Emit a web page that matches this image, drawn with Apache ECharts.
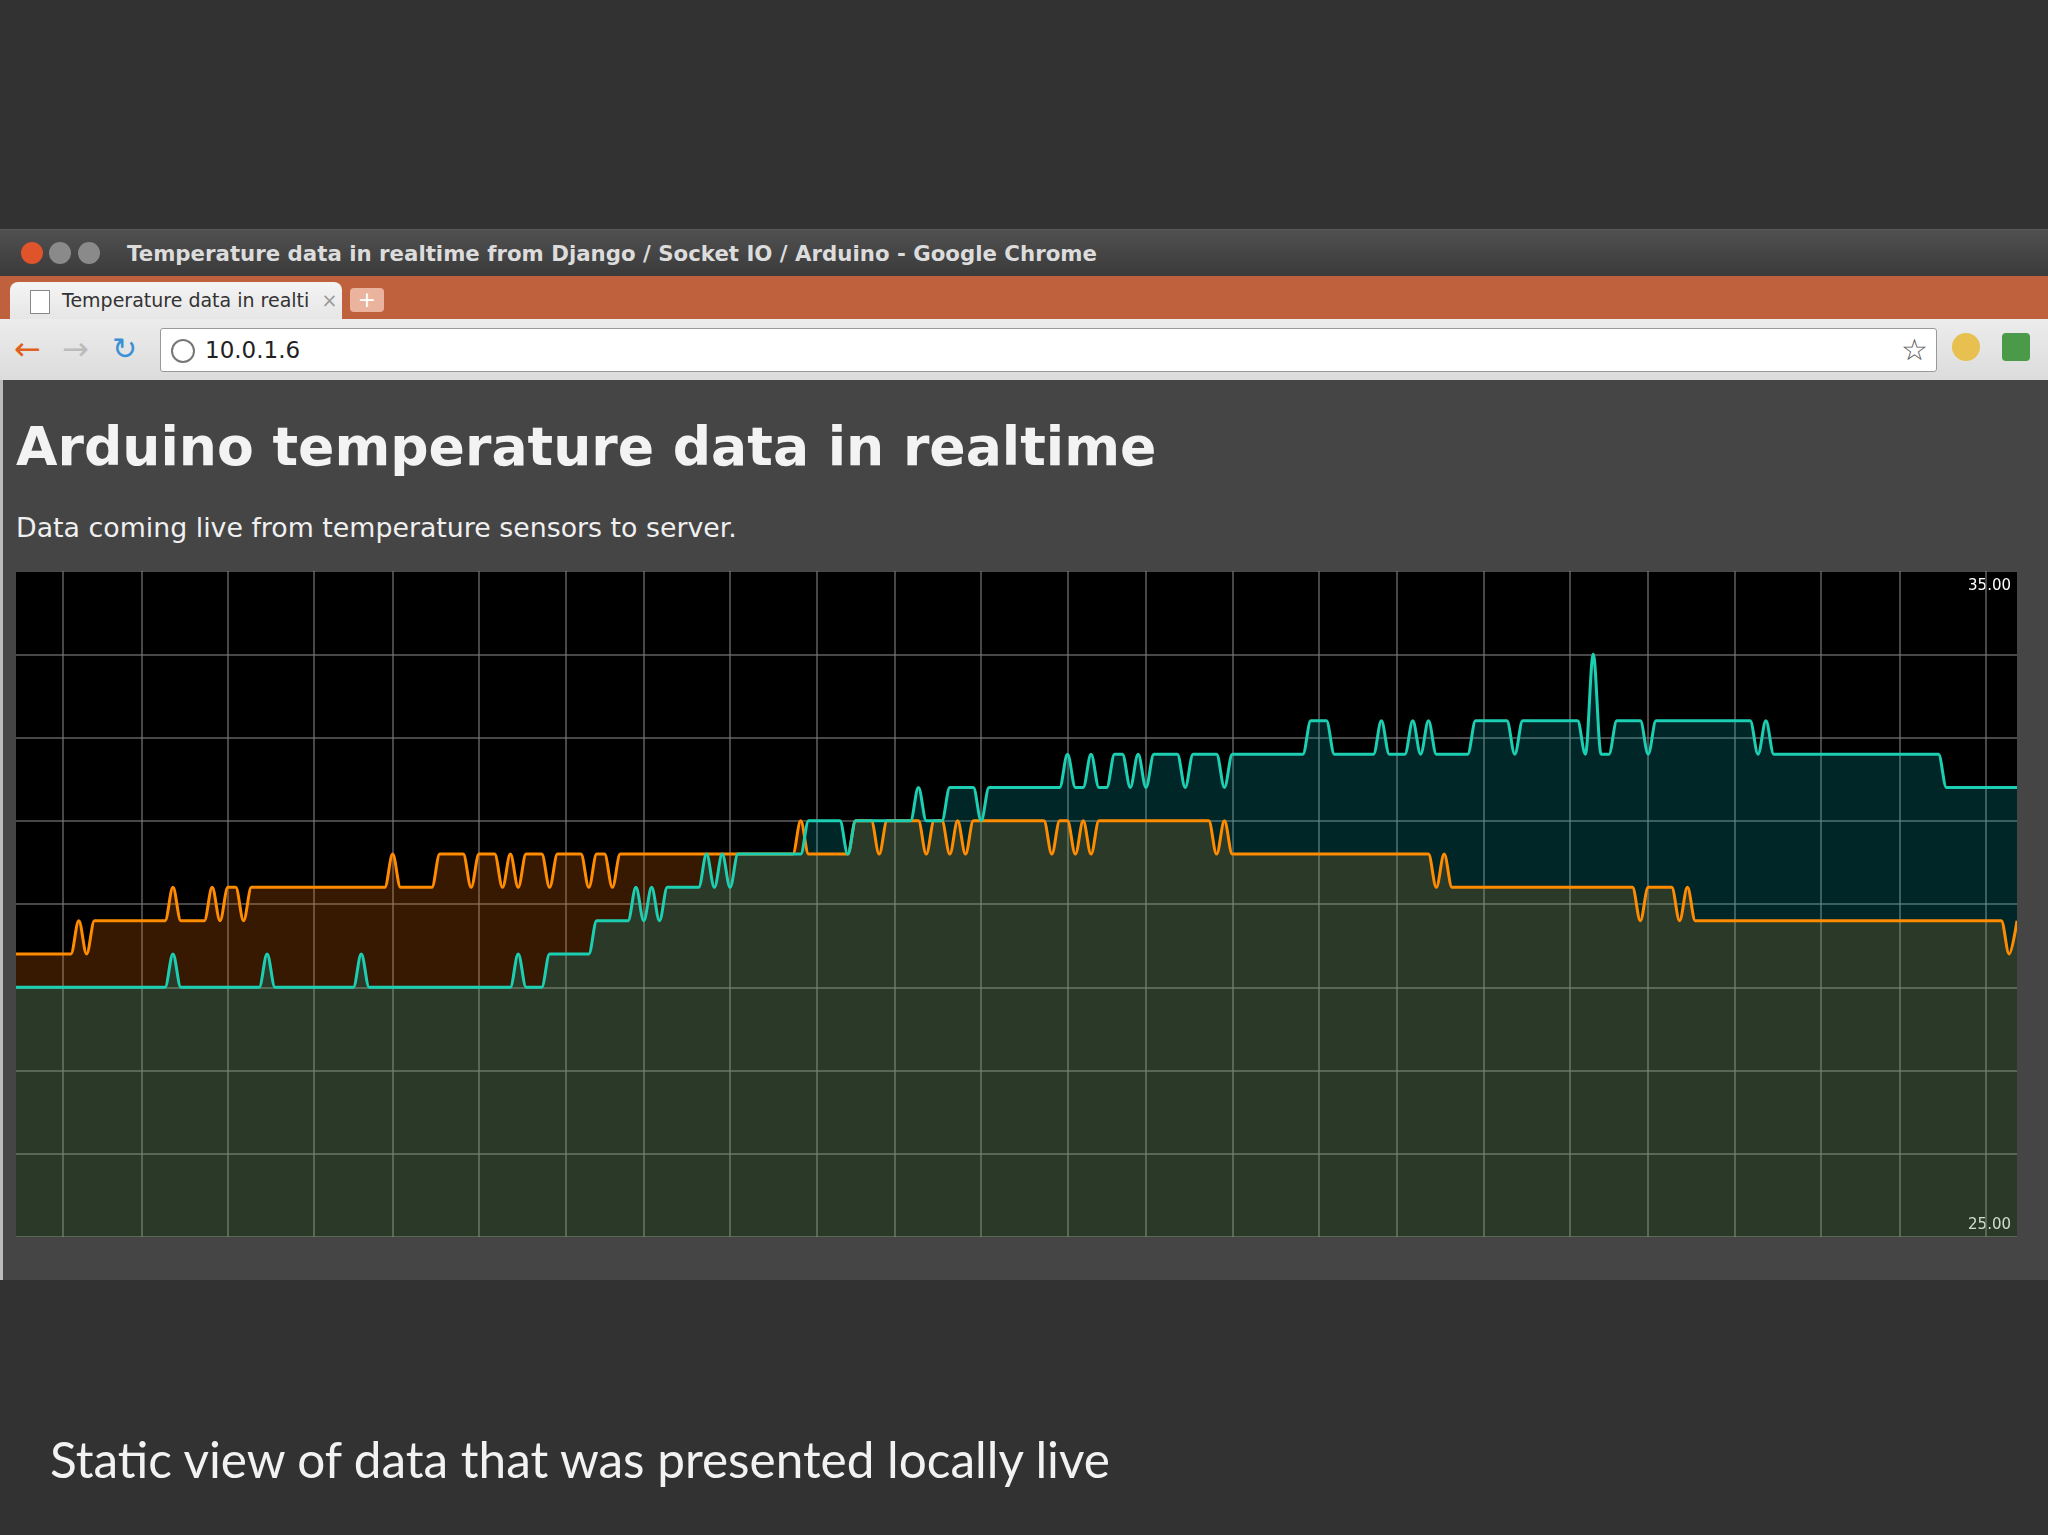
<!DOCTYPE html>
<html><head><meta charset="utf-8">
<script src="https://cdn.jsdelivr.net/npm/echarts@6/dist/echarts.min.js"></script>
<style>
html,body{margin:0;padding:0;width:2048px;height:1535px;background:#323232;overflow:hidden;font-family:"DejaVu Sans",sans-serif}
.abs{position:absolute}
#titlebar{left:0;top:229px;width:2048px;height:47px;background:linear-gradient(#505050,#3a3a3a);border-top:1px solid #5a5a5a}
#titletext{left:127px;top:0;line-height:47px;font-size:21.3px;font-weight:bold;color:#dcdcdc;white-space:nowrap}
.btn{top:12px;width:22px;height:22px;border-radius:50%}
#tabbar{left:0;top:276px;width:2048px;height:43px;background:#c0613d}
#tab{left:10px;top:6px;width:332px;height:37px;background:linear-gradient(#f4f4f4,#e6e6e6);border-radius:8px 8px 0 0}
#tabtext{left:52px;top:0;line-height:37px;font-size:19px;color:#333;white-space:nowrap}
#newtab{left:350px;top:12px;width:34px;height:24px;background:#e9b39e;border-radius:4px;color:#fff;font-size:22px;line-height:24px;text-align:center}
#toolbar{left:0;top:319px;width:2048px;height:61px;background:linear-gradient(#ececec,#dcdcdc);border-bottom:1px solid #aaa}
#omni{left:160px;top:9px;width:1775px;height:42px;background:#fff;border:1px solid #999;border-radius:3px}
#omnitext{left:44px;top:0;line-height:42px;font-size:23px;color:#222}
#page{left:0;top:380px;width:2048px;height:900px;background:#464546;border-left:3px solid #bbb}
#h1{left:16px;top:416px;font-size:53.6px;font-weight:bold;color:#f3f3f3;white-space:nowrap;line-height:62px}
#sub{left:16px;top:511px;font-size:26.8px;color:#f0f0f0;white-space:nowrap;line-height:34px}
#chart{left:16px;top:571px;width:2001px;height:666px}
#caption{left:50px;top:1430px;font-family:Lato,"Open Sans",sans-serif;font-size:49.5px;color:#f2f2f2;white-space:nowrap;line-height:58px}
</style></head>
<body>
<div id="titlebar" class="abs">
 <div class="abs btn" style="left:21px;background:#e0542c"></div>
 <div class="abs btn" style="left:49px;background:#8a8a8a"></div>
 <div class="abs btn" style="left:78px;background:#8a8a8a"></div>
 <div id="titletext" class="abs">Temperature data in realtime from Django / Socket IO / Arduino - Google Chrome</div>
</div>
<div id="tabbar" class="abs">
 <div id="tab" class="abs"><div class="abs" style="left:20px;top:8px;width:18px;height:22px;border:1px solid #888;background:#fff"></div><div id="tabtext" class="abs">Temperature data in realti&nbsp;&nbsp;<span style="color:#999">×</span></div></div>
 <div id="newtab" class="abs">+</div>
</div>
<div id="toolbar" class="abs">
 <div class="abs" style="left:14px;top:12px;font-size:32px;color:#e06020;line-height:36px">&#x2190;</div>
 <div class="abs" style="left:62px;top:12px;font-size:32px;color:#bbb;line-height:36px">&#x2192;</div>
 <div class="abs" style="left:112px;top:12px;font-size:30px;color:#3a8fd6;line-height:36px">&#x21bb;</div>
 <div id="omni" class="abs"><div class="abs" style="left:10px;top:10px;width:20px;height:20px;border-radius:50%;border:2px solid #777"></div><div id="omnitext" class="abs">10.0.1.6</div>
 <div class="abs" style="right:8px;top:0;line-height:42px;font-size:30px;color:#555">&#x2606;</div></div>
 <div class="abs" style="left:1952px;top:14px;width:28px;height:28px;border-radius:50%;background:#e8c050"></div>
 <div class="abs" style="left:2002px;top:14px;width:28px;height:28px;border-radius:4px;background:#4a9a4a"></div>
</div>
<div id="page" class="abs"></div>
<div id="h1" class="abs">Arduino temperature data in realtime</div>
<div id="sub" class="abs">Data coming live from temperature sensors to server.</div>
<div id="chart" class="abs"></div>
<div id="caption" class="abs">Static view of data that was presented locally live</div>
<script>
// Readings as run-lengths: [temperature °C, number of consecutive samples]
const sensorA_runs = [[29.25,8],[29.75,1],[29.25,1],[29.75,10],[30.25,1],[29.75,4],[30.25,1],[29.75,1],[30.25,2],[29.75,1],[30.25,18],[30.75,1],[30.25,5],[30.75,4],[30.25,1],[30.75,3],[30.25,1],[30.75,1],[30.25,1],[30.75,3],[30.25,1],[30.75,4],[30.25,1],[30.75,2],[30.25,1],[30.75,23],[31.25,1],[30.75,6],[31.25,3],[30.75,1],[31.25,5],[30.75,1],[31.25,2],[30.75,1],[31.25,1],[30.75,1],[31.25,10],[30.75,1],[31.25,2],[30.75,1],[31.25,1],[30.75,1],[31.25,15],[30.75,1],[31.25,1],[30.75,26],[30.25,1],[30.75,1],[30.25,24],[29.75,1],[30.25,4],[29.75,1],[30.25,1],[29.75,40],[29.25,1],[29.75,1]];
const sensorB_runs = [[28.75,20],[29.25,1],[28.75,11],[29.25,1],[28.75,11],[29.25,1],[28.75,19],[29.25,1],[28.75,3],[29.25,6],[29.75,5],[30.25,1],[29.75,1],[30.25,1],[29.75,1],[30.25,5],[30.75,1],[30.25,1],[30.75,1],[30.25,1],[30.75,9],[31.25,5],[30.75,1],[31.25,8],[31.75,1],[31.25,3],[31.75,4],[31.25,1],[31.75,9],[31.75,1],[32.25,1],[31.75,2],[32.25,1],[31.75,2],[32.25,2],[31.75,1],[32.25,1],[31.75,1],[32.25,4],[31.75,1],[32.25,4],[31.75,1],[32.25,10],[32.75,3],[32.25,6],[32.75,1],[32.25,3],[32.75,1],[32.25,1],[32.75,1],[32.25,5],[32.75,5],[32.25,1],[32.75,8],[32.25,1],[33.75,1],[32.25,2],[32.75,4],[32.25,1],[32.75,13],[32.25,1],[32.75,1],[32.25,22],[31.75,10]];
const yMin = 25, yMax = 35, yStep = 1.25;
const yLabels = ['35.00','25.00'];

function expand(runs){const out=[];runs.forEach(([v,n])=>{for(let i=0;i<n;i++)out.push(v);});return out;}
const sensorA = expand(sensorA_runs);
const sensorB = expand(sensorB_runs);
const samples = sensorA.map((_,i)=>i);

const chart = echarts.init(document.getElementById('chart'));
chart.setOption({
  backgroundColor:'#000',
  animation:false,
  grid:{left:0,right:0,top:0,bottom:0},
  xAxis:{type:'category',data:samples,boundaryGap:false,
    axisLine:{show:false},axisTick:{show:false},axisLabel:{show:false},
    splitLine:{show:true,lineStyle:{color:'rgba(120,120,120,0.6)',width:2},
      interval:function(idx){const k=Math.round((idx-5.667)/10.667);return idx===Math.round(5.667+10.667*k);}}},
  yAxis:{type:'value',min:yMin,max:yMax,interval:yStep,
    axisLine:{show:false},axisTick:{show:false},axisLabel:{show:false},
    splitLine:{lineStyle:{color:'rgba(120,120,120,0.6)',width:2}}},
  graphic:[
    {type:'text',right:6,top:8,style:{text:yLabels[0],fill:'#fff',font:'15px "DejaVu Sans"'}},
    {type:'text',right:6,bottom:4,style:{text:yLabels[1],fill:'#fff',font:'15px "DejaVu Sans"'}}
  ],
  series:[
    {type:'line',data:sensorA,smooth:0.35,smoothMonotone:'x',showSymbol:false,
     lineStyle:{color:'#ff8c00',width:3},areaStyle:{color:'rgba(255,120,0,0.3)',origin:'start'}},
    {type:'line',data:sensorB,smooth:0.35,smoothMonotone:'x',showSymbol:false,
     lineStyle:{color:'#1ccfb2',width:3},areaStyle:{color:'rgba(0,200,210,0.27)',origin:'start'}}
  ]
});
</script>
</body></html>
